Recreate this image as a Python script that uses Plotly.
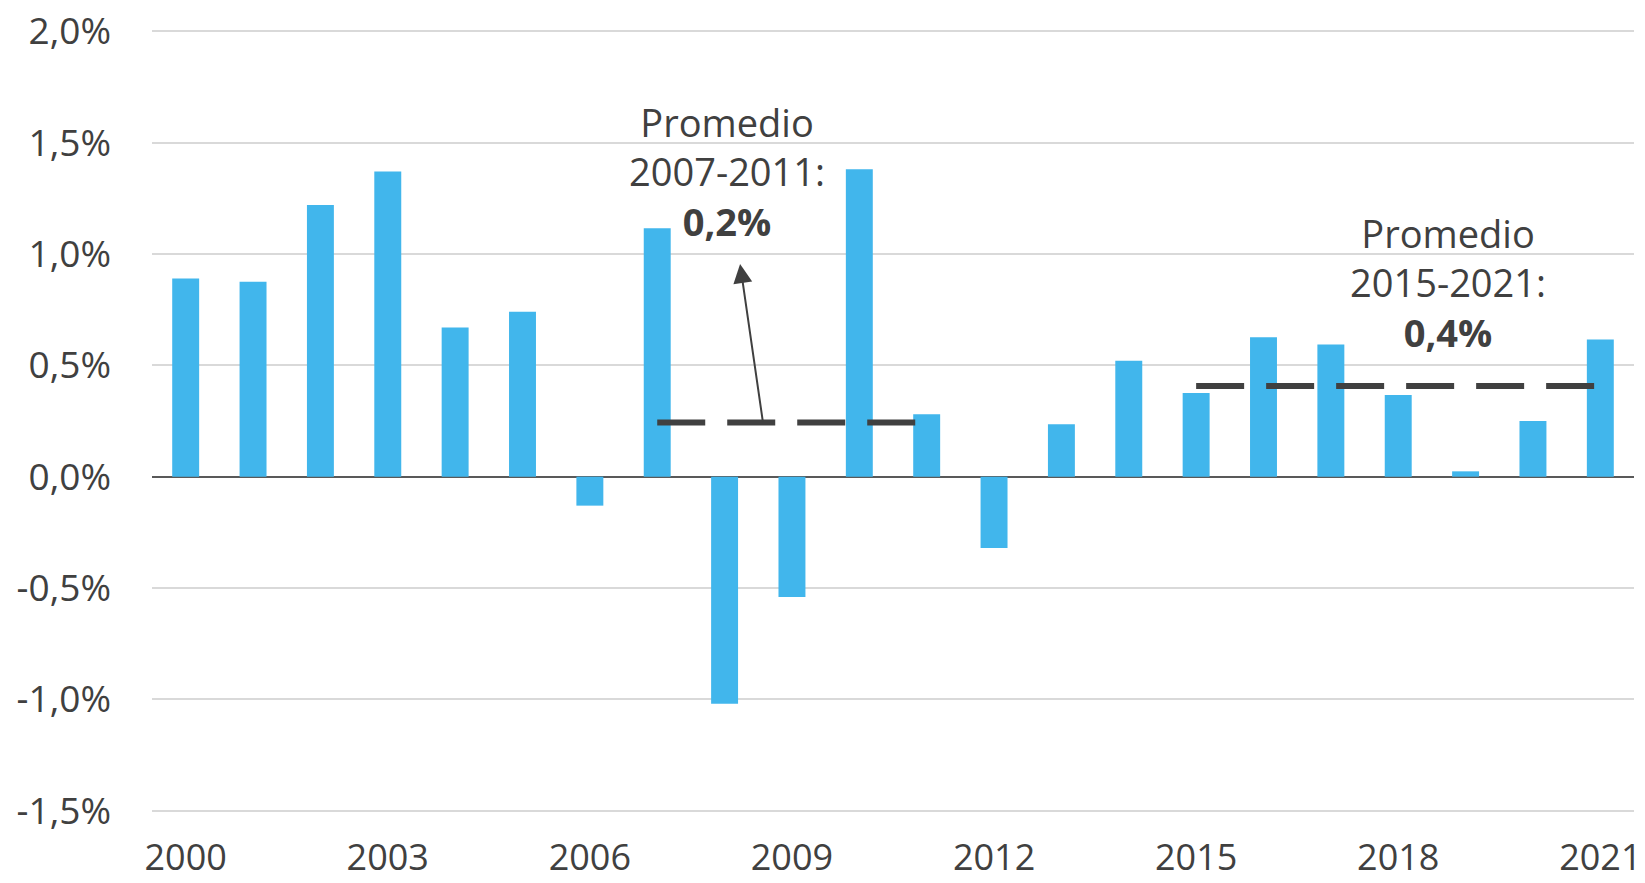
import numpy as np
import plotly.graph_objects as go

years = list(range(2000, 2022))
values = [0.89, 0.875, 1.22, 1.37, 0.67, 0.74, -0.13, 1.115, -1.02, -0.54, 1.38,
          0.28, -0.32, 0.235, 0.52, 0.376, 0.626, 0.593, 0.367, 0.024, 0.25, 0.616]
x_tick_years = [2000, 2003, 2006, 2009, 2012, 2015, 2018, 2021]
y_tick_vals = [-1.5, -1.0, -0.5, 0.0, 0.5, 1.0, 1.5, 2.0]
y_tick_text = ["-1,5%", "-1,0%", "-0,5%", "0,0%", "0,5%", "1,0%", "1,5%", "2,0%"]
period_a = (2007, 2011)
period_b = (2015, 2021)
label_a = "Promedio<br>2007-2011:<br><b>0,2%</b>"
label_b = "Promedio<br>2015-2021:<br><b>0,4%</b>"

idx = list(range(len(years)))
def period_mean(p):
    sel = [v for y, v in zip(years, values) if p[0] <= y <= p[1]]
    return float(np.mean(sel))

avg_a = period_mean(period_a)
avg_b = period_mean(period_b)

TXT = "#404040"
FONT = "Open Sans"

fig = go.Figure()
fig.add_trace(go.Bar(x=idx, y=values, width=0.4, marker=dict(color="#41B6EC", line=dict(width=0)),
                     showlegend=False, hoverinfo="skip"))
for p, avg in [(period_a, avg_a), (period_b, avg_b)]:
    fig.add_trace(go.Scatter(x=[years.index(p[0]), years.index(p[1])], y=[avg, avg], mode="lines",
                             line=dict(color="#404040", width=6, dash="48px,22px"),
                             showlegend=False, hoverinfo="skip"))

fig.update_layout(
    width=1645, height=883,
    margin=dict(l=152, r=11, t=29, b=70, autoexpand=False),
    plot_bgcolor="white", paper_bgcolor="white",
    font=dict(family=FONT, color=TXT, size=36),
    xaxis=dict(range=[-0.5, len(years) - 0.5], tickmode="array",
               tickvals=[years.index(y) for y in x_tick_years],
               ticktext=[str(y) for y in x_tick_years],
               showgrid=False, zeroline=False, showline=False, ticks="",
               automargin=False,
               ticklabelstandoff=20, tickfont=dict(size=36, color=TXT)),
    yaxis=dict(range=[-1.51, 2.01], tickmode="array", tickvals=y_tick_vals, ticktext=y_tick_text,
               showgrid=True, gridcolor="#D9D9D9", gridwidth=1.5,
               zeroline=True, zerolinecolor="#595959", zerolinewidth=2,
               showline=False, ticks="", ticklabelstandoff=40, automargin=False,
               tickfont=dict(size=37, color=TXT)),
)

# annotations
fig.add_annotation(x=8.04, y=1.37, xref="x", yref="y", text=label_a, showarrow=False,
                   font=dict(size=38, color=TXT, family=FONT), align="center",
                   xanchor="center", yanchor="middle")
fig.add_annotation(x=18.74, y=0.872, xref="x", yref="y", text=label_b, showarrow=False,
                   font=dict(size=38, color=TXT, family=FONT), align="center",
                   xanchor="center", yanchor="middle")
# arrow from dashed line to label
fig.add_annotation(x=8.23, y=0.955, xref="x", yref="y", ax=8.57, ay=avg_a, axref="x", ayref="y",
                   text="", showarrow=True, arrowhead=2, arrowsize=1.9, arrowwidth=2,
                   arrowcolor="#404040")

fig.write_html("out.html", config={"displayModeBar": False},
               post_script="document.body.style.margin='0';")
